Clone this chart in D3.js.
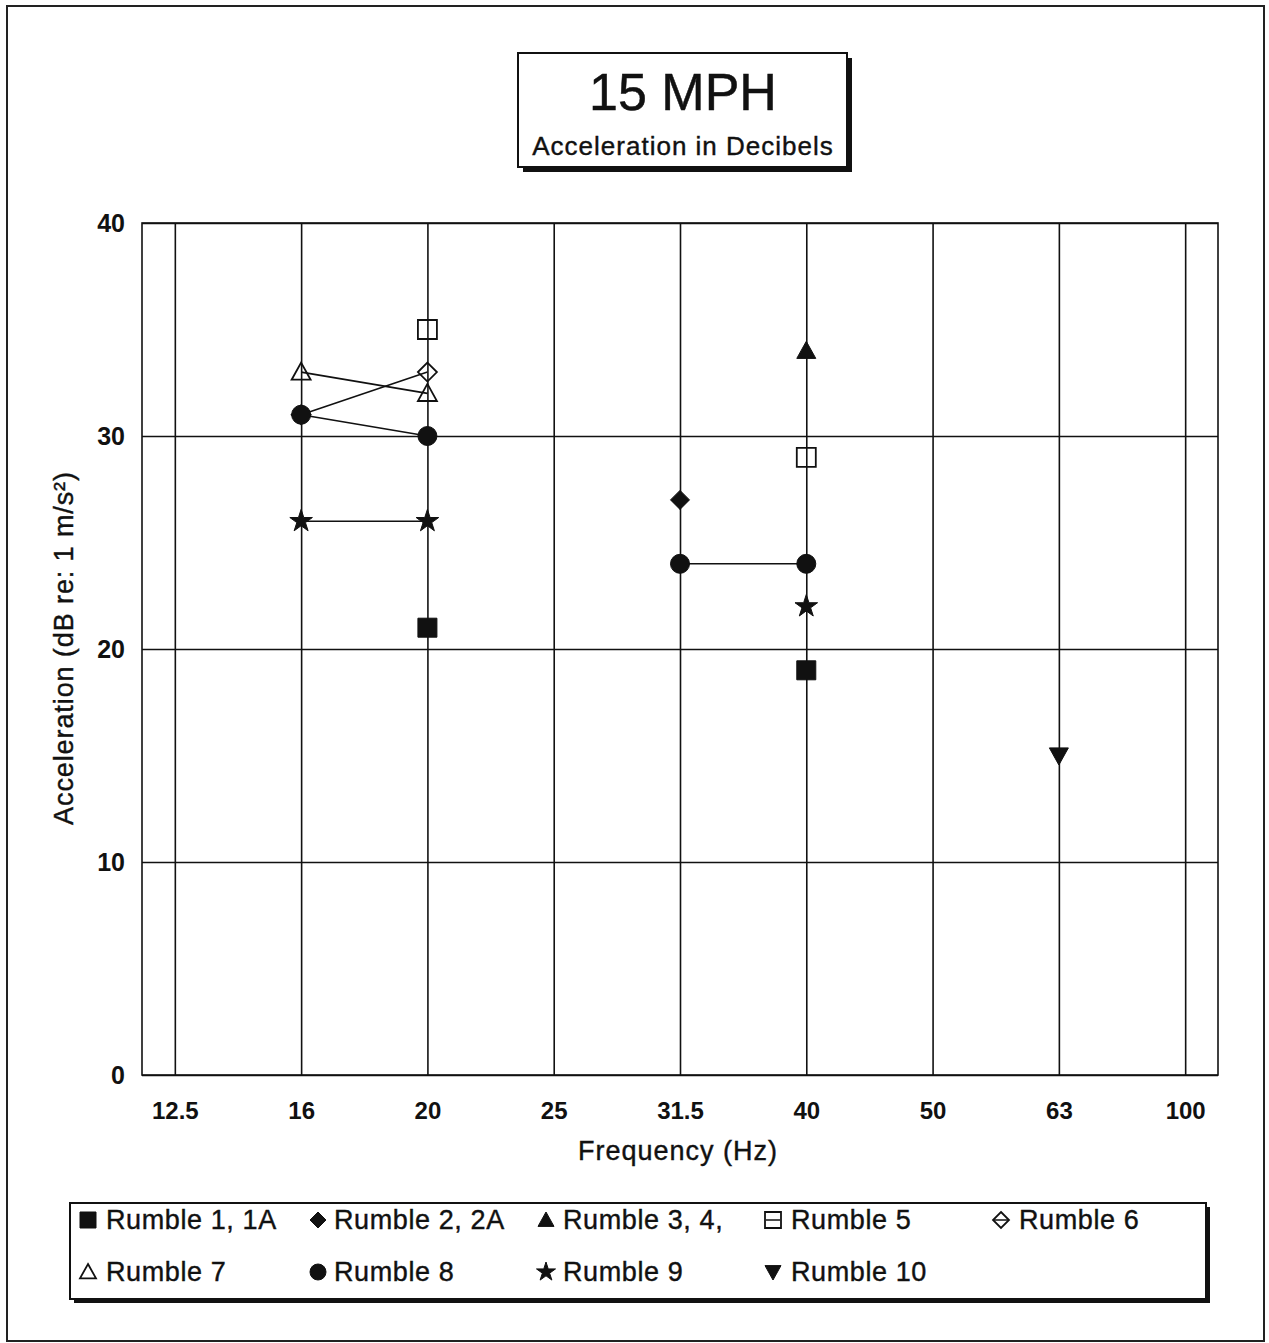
<!DOCTYPE html>
<html><head><meta charset="utf-8">
<script src="https://cdn.jsdelivr.net/npm/d3@7"></script>
<style>
html,body{margin:0;padding:0;background:#fff;}
svg{display:block;}
text{font-family:"Liberation Sans",Arial,sans-serif;fill:#111;}
</style></head>
<body><svg id="chart" width="1269" height="1343"></svg>
<script>
// ---- data ----
const categories = ["12.5","16","20","25","31.5","40","50","63","100"];
const yTicks = [0,10,20,30,40];
const rumble1  = [null,null,21,null,null,19,null,null,null];
const rumble2  = [null,null,null,null,27,null,null,null,null];
const rumble3  = [null,null,null,null,null,34,null,null,null];
const rumble5  = [null,null,35,null,null,29,null,null,null];
const rumble6  = [null,31,33,null,null,null,null,null,null];
const rumble7  = [null,33,32,null,null,null,null,null,null];
const rumble8  = [null,31,30,null,24,24,null,null,null];
const rumble9  = [null,26,26,null,null,22,null,null,null];
const rumble10 = [null,null,null,null,null,null,null,15,null];
const seriesNames = ["Rumble 1, 1A","Rumble 2, 2A","Rumble 3, 4,","Rumble 5","Rumble 6","Rumble 7","Rumble 8","Rumble 9","Rumble 10"];
const seriesValues = [rumble1,rumble2,rumble3,rumble5,rumble6,rumble7,rumble8,rumble9,rumble10];
const seriesMarkers = ["squareF","diamondF","triangleF","squareO","diamondO","triangleO","circleF","star","triDownF"];
const titleText = "15 MPH";
const subtitleText = "Acceleration in Decibels";
const xTitle = "Frequency (Hz)";
const yTitle = "Acceleration (dB re: 1 m/s²)";

// ---- layout ----
const svg = d3.select("#chart");
const L = 142, R = 1218, T = 223, B = 1075;
const x = d3.scalePoint().domain(categories).range([L, R]).padding(0.26);
const y = d3.scaleLinear().domain([0, 40]).range([B, T]);

svg.append("rect").attr("width",1269).attr("height",1343).attr("fill","#fff");
// outer frame
svg.append("rect").attr("x",7).attr("y",6).attr("width",1257).attr("height",1335)
  .attr("fill","none").attr("stroke","#222").attr("stroke-width",2);

// title box
svg.append("rect").attr("x",523).attr("y",58).attr("width",329).attr("height",114).attr("fill","#111");
svg.append("rect").attr("x",518).attr("y",53).attr("width",329).attr("height",114)
  .attr("fill","#fff").attr("stroke","#111").attr("stroke-width",2);
svg.append("text").attr("x",683).attr("y",110).attr("text-anchor","middle")
  .attr("font-size",52).attr("stroke","#111").attr("stroke-width",0.5).text(titleText);
svg.append("text").attr("x",683).attr("y",155).attr("text-anchor","middle")
  .attr("font-size",26).attr("letter-spacing","1px").attr("stroke","#111").attr("stroke-width",0.4).text(subtitleText);

// axes / grid
const gy = svg.append("g").attr("transform",`translate(${L},0)`)
  .call(d3.axisLeft(y).tickValues(yTicks).tickSize(-(R-L)).tickPadding(17).tickFormat(d3.format("d")));
gy.select(".domain").remove();
gy.selectAll(".tick line").attr("stroke","#111").attr("stroke-width",1.6);
gy.selectAll(".tick text").attr("font-size",25).attr("font-weight","bold").attr("fill","#111")
  .attr("font-family","Liberation Sans, Arial, sans-serif");

const gx = svg.append("g").attr("transform",`translate(0,${B})`)
  .call(d3.axisBottom(x).tickSize(-(B-T)).tickPadding(27));
gx.select(".domain").remove();
gx.selectAll(".tick line").attr("stroke","#111").attr("stroke-width",1.6);
gx.selectAll(".tick text").attr("font-size",24).attr("font-weight","bold").attr("fill","#111")
  .attr("font-family","Liberation Sans, Arial, sans-serif");

svg.append("rect").attr("x",L).attr("y",T).attr("width",R-L).attr("height",B-T)
  .attr("fill","none").attr("stroke","#111").attr("stroke-width",1.6);

// axis titles
svg.append("text").attr("x",678).attr("y",1160).attr("text-anchor","middle")
  .attr("font-size",27).attr("letter-spacing","1px").attr("stroke","#111").attr("stroke-width",0.4).text(xTitle);
svg.append("text").attr("transform","translate(73,648) rotate(-90)").attr("text-anchor","middle")
  .attr("font-size",27).attr("letter-spacing","0.9px").attr("stroke","#111").attr("stroke-width",0.4).text(yTitle);

// marker drawing
function markerPath(type, cx, cy, s) {
  const h = s/2;
  switch (type) {
    case "squareF": case "squareO":
      return `M${cx-h},${cy-h}H${cx+h}V${cy+h}H${cx-h}Z`;
    case "diamondF": case "diamondO":
      return `M${cx},${cy-h}L${cx+h},${cy}L${cx},${cy+h}L${cx-h},${cy}Z`;
    case "triangleF": case "triangleO":
      return `M${cx},${cy-h}L${cx+h},${cy+h*0.8}L${cx-h},${cy+h*0.8}Z`;
    case "triDownF":
      return `M${cx-h},${cy-h*0.8}L${cx+h},${cy-h*0.8}L${cx},${cy+h}Z`;
    case "circleF":
      return d3.symbol(d3.symbolCircle, Math.PI*h*h)();
    case "star":
      return d3.symbol(d3.symbolStar, (h*1.25)*(h*1.25)/0.8908130915292852)();
  }
}
function drawMarker(g, type, cx, cy, s) {
  const filled = !type.endsWith("O");
  let p;
  if (type === "circleF" || type === "star") {
    p = g.append("path").attr("d", markerPath(type, 0, 0, s)).attr("transform",`translate(${cx},${cy})`);
  } else {
    p = g.append("path").attr("d", markerPath(type, cx, cy, s));
  }
  p.attr("fill", filled ? "#111" : "none").attr("stroke","#111").attr("stroke-width", filled ? 1 : 1.8);
}

// series lines and markers
const line = d3.line().defined(d => d.v != null).x(d => x(d.c)).y(d => y(d.v));
const gs = svg.append("g");
seriesValues.forEach((vals, i) => {
  const pts = categories.map((c, j) => ({c, v: vals[j]}));
  gs.append("path").attr("d", line(pts)).attr("fill","none").attr("stroke","#111").attr("stroke-width",1.6);
});
seriesValues.forEach((vals, i) => {
  categories.forEach((c, j) => {
    if (vals[j] != null) drawMarker(gs, seriesMarkers[i], x(c), y(vals[j]), 19);
  });
});

// legend
svg.append("rect").attr("x",74).attr("y",1207).attr("width",1136).attr("height",96).attr("fill","#111");
svg.append("rect").attr("x",70).attr("y",1203).attr("width",1136).attr("height",96)
  .attr("fill","#fff").attr("stroke","#111").attr("stroke-width",2);
const colMark = [88,318,546,773,1001];
const colText = [106,334,563,791,1019];
const rowY = [1220,1272];
seriesNames.forEach((name, i) => {
  const r = Math.floor(i/5), c = i%5;
  const g = svg.append("g");
  drawMarker(g, seriesMarkers[i], colMark[c], rowY[r], 16);
  if (seriesMarkers[i] === "squareO" || seriesMarkers[i] === "diamondO") {
    g.append("line").attr("x1",colMark[c]-7).attr("x2",colMark[c]+7)
      .attr("y1",rowY[r]).attr("y2",rowY[r]).attr("stroke","#111").attr("stroke-width",1.5);
  }
  g.append("text").attr("x",colText[c]).attr("y",rowY[r]+9)
    .attr("font-size",27).attr("letter-spacing","0.6px").attr("stroke","#111").attr("stroke-width",0.4).text(name);
});
</script></body></html>
